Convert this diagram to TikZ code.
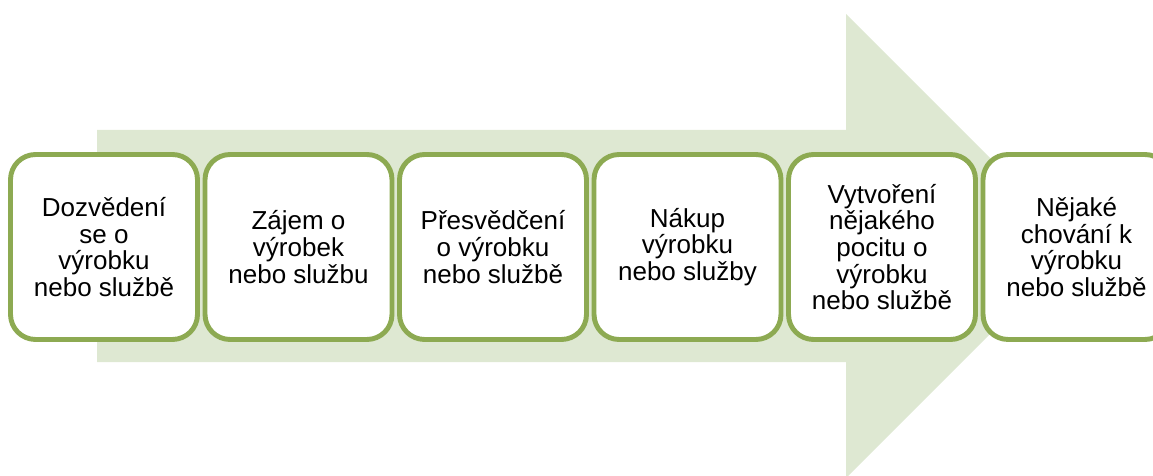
\documentclass[tikz,border=0pt]{standalone}
\usepackage{fontspec}
\setmainfont{Liberation Sans}
\usetikzlibrary{positioning}
\definecolor{arrowfill}{RGB}{222,232,210}
\definecolor{boxline}{RGB}{141,170,82}
\tikzset{
  stagebox/.style={draw=boxline, line width=2.8pt, fill=white, rounded corners=0.5cm,
    minimum width=3.74cm, minimum height=3.7cm, inner sep=0pt, align=center,
    font=\fontsize{14.8}{15.2}\selectfont}
}
\begin{document}
\begin{tikzpicture}[x=0.02cm,y=-0.02cm]
    \useasboundingbox (0,0) rectangle (1153,476);
    \clip (0,0) rectangle (1153,476);
    % background arrow
    \fill[arrowfill] (97,130) -- (846,130) -- (846,14) -- (1078,246)
        -- (846,478) -- (846,362) -- (97,362) -- cycle;
    % stages
    \node[stagebox] (dozvedeni) at (104,247) {Dozvědení\\se o\\výrobku\\nebo službě};
    \node[stagebox] (zajem) at (298.5,247) {Zájem o\\výrobek\\nebo službu};
    \node[stagebox] (presvedceni) at (493,247) {Přesvědčení\\o výrobku\\nebo službě};
    \node[stagebox] (nakup) at (687.5,247) {Nákup\\výrobku\\nebo služby};
    \node[stagebox] (pocit) at (882,247) {Vytvoření\\nějakého\\pocitu o\\výrobku\\nebo službě};
    \node[stagebox] (chovani) at (1076.5,247) {Nějaké\\chování k\\výrobku\\nebo službě};
\end{tikzpicture}
\end{document}
